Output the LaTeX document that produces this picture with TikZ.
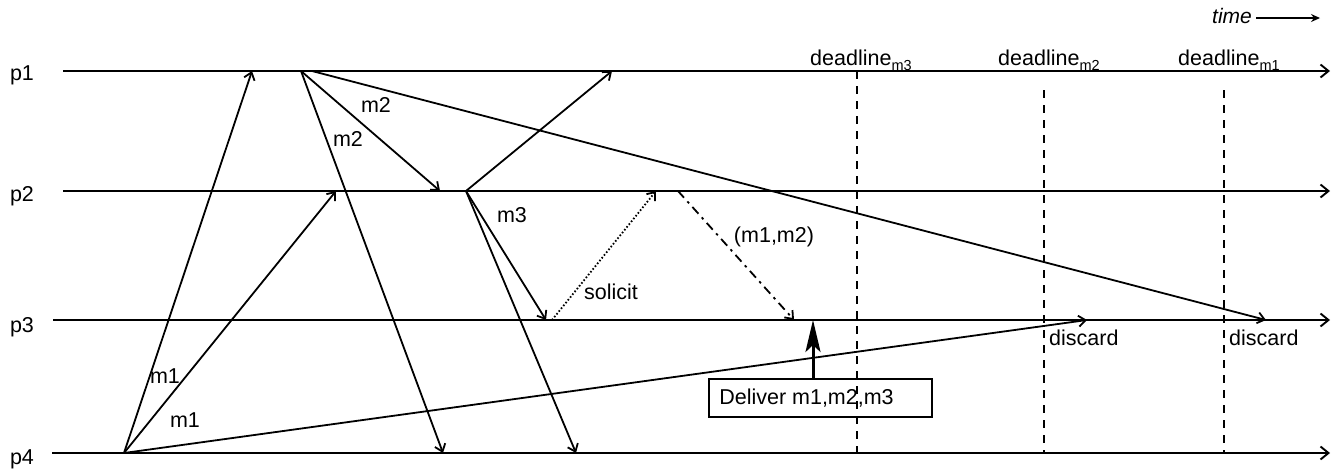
\documentclass[tikz,border=0pt]{standalone}
\usepackage{fontspec}
\setmainfont{Liberation Sans}
\usetikzlibrary{arrows.meta}
\newcommand{\dl}[1]{deadline\raisebox{-5pt}{\fontsize{14.5}{15}\selectfont #1}}
\begin{document}
\begin{tikzpicture}[x=1pt,y=-1pt,
  proc/.style={line width=1.9pt,-{Straight Barb[length=8pt,width=13pt]}},
  msg/.style={line width=1.8pt,-{Straight Barb[length=7pt,width=11pt]}},
  lbl/.style={font=\fontsize{21.5}{25}\selectfont, inner sep=0pt},
  dline/.style={line width=2pt, dash pattern=on 8pt off 7pt},
  dotmsg/.style={line width=1.8pt, dash pattern=on 1.6pt off 2pt,-{Straight Barb[length=7pt,width=11pt]}},
  dashdotmsg/.style={line width=1.8pt, dash pattern=on 9pt off 5pt on 2.5pt off 5pt,-{Straight Barb[length=7pt,width=11pt]}},
  delbox/.style={draw, line width=1.9pt, minimum width=223pt, minimum height=38pt, inner sep=0pt, font=\fontsize{21.5}{25}\selectfont}
]
\useasboundingbox (0,0) rectangle (1340,469);

% process lines
\coordinate (p1s) at (63,71);   \coordinate (p1e) at (1330,71);
\coordinate (p2s) at (63,191);  \coordinate (p2e) at (1330,191);
\coordinate (p3s) at (53,320);  \coordinate (p3e) at (1330,320);
\coordinate (p4s) at (52,453);  \coordinate (p4e) at (1330,453);
\draw[proc] (p1s) -- (p1e);
\draw[proc] (p2s) -- (p2e);
\draw[proc] (p3s) -- (p3e);
\draw[proc] (p4s) -- (p4e);
\node[lbl] (lp1) at (22,75) {p1};
\node[lbl] (lp2) at (22,196) {p2};
\node[lbl] (lp3) at (22,327) {p3};
\node[lbl] (lp4) at (22,459) {p4};

% time
\node[lbl, font=\fontsize{21}{24}\selectfont\itshape, anchor=west] (time) at (1212,16) {time};
\coordinate (te) at (1320,18);
\draw[line width=1.4pt,-{Stealth[length=9pt,width=8pt]}] (time.east |- te) ++(4,0) -- (te);

% deadlines
\coordinate (dm3t) at (857,71);  \coordinate (dm3b) at (857,453);
\coordinate (dm2t) at (1044,90); \coordinate (dm2b) at (1044,453);
\coordinate (dm1t) at (1224,90); \coordinate (dm1b) at (1224,453);
\draw[dline] (dm3t) -- (dm3b);
\draw[dline] (dm2t) -- (dm2b);
\draw[dline] (dm1t) -- (dm1b);
\node[lbl, anchor=base west] (ldm3) at (810,65) {\dl{m3}};
\node[lbl, anchor=base west] (ldm2) at (998,65) {\dl{m2}};
\node[lbl, anchor=base west] (ldm1) at (1178,65) {\dl{m1}};

% m1 from p4
\coordinate (a1) at (124,453);
\coordinate (b1) at (252,71);
\coordinate (b2) at (336,191);
\coordinate (b3) at (1087,320);
\draw[msg] (a1) -- (b1);
\draw[msg] (a1) -- (b2);
\draw[msg] (a1) -- (b3);
\node[lbl] (lm1a) at (165,376) {m1};
\node[lbl] (lm1b) at (185,420) {m1};

% m2 from p1
\coordinate (c0) at (301,71);
\coordinate (c0b) at (312,71);
\coordinate (c1) at (440,191);
\coordinate (c2) at (443,453);
\coordinate (c3) at (1266,320);
\draw[msg] (c0) -- (c1);
\draw[msg] (c0) -- (c2);
\draw[msg] (c0b) -- (c3);
\node[lbl] (lm2a) at (376,105) {m2};
\node[lbl] (lm2b) at (348,139) {m2};

% m3 from p2
\coordinate (d0) at (466,191);
\coordinate (d1) at (612,71);
\coordinate (d2) at (546,320);
\coordinate (d3) at (576,453);
\draw[msg] (d0) -- (d1);
\draw[msg] (d0) -- (d2);
\draw[msg] (d0) -- (d3);
\node[lbl] (lm3) at (512,215) {m3};

% solicit
\coordinate (s0) at (552,320);
\coordinate (s1) at (656,191);
\draw[dotmsg] (s0) -- (s1);
\node[lbl] (lsol) at (611,292) {solicit};

% (m1,m2)
\coordinate (r0) at (678,191);
\coordinate (r1) at (794,320);
\draw[dashdotmsg] (r0) -- (r1);
\node[lbl] (lr) at (774,237) {(m1,m2)};

% deliver
\node[delbox] (box) at (820.5,398) {Deliver m1,m2,m3\rule{28pt}{0pt}};
\coordinate (dv) at (813,320);
\draw[line width=3pt,-{Stealth[length=32pt,width=15pt,inset=7pt]}] (box.north -| dv) -- (dv);

% discard labels
\node[lbl, anchor=west] (dis1) at (1049,338) {discard};
\node[lbl, anchor=west] (dis2) at (1229,338) {discard};
\end{tikzpicture}
\end{document}
